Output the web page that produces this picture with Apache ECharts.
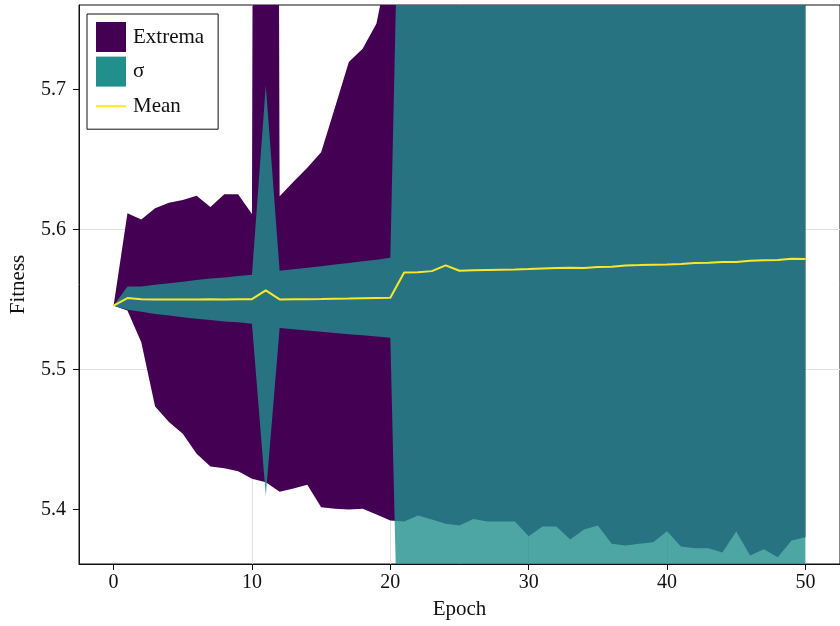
<!DOCTYPE html>
<html><head><meta charset="utf-8">
<script src="https://cdn.jsdelivr.net/npm/echarts@6/dist/echarts.min.js"></script>
<style>html,body{margin:0;padding:0;background:#fff}#c{width:840px;height:626px}</style>
</head><body><div id="c"></div>
<script>
const epochs = [0,1,2,3,4,5,6,7,8,9,10,11,12,13,14,15,16,17,18,19,20,21,22,23,24,25,26,27,28,29,30,31,32,33,34,35,36,37,38,39,40,41,42,43,44,45,46,47,48,49,50];
const meanVals = [5.5455,5.5510,5.5502,5.5500,5.5500,5.5500,5.5500,5.5501,5.5500,5.5502,5.5502,5.5564,5.5500,5.5501,5.5502,5.5503,5.5505,5.5506,5.5508,5.5510,5.5512,
  5.5692,5.5694,5.5702,5.5743,5.5705,5.5708,5.5710,5.5712,5.5714,5.5717,5.5721,5.5724,5.5726,5.5725,5.5731,5.5733,5.5743,5.5745,5.5748,5.5750,
  5.5753,5.5760,5.5762,5.5767,5.5767,5.5776,5.5779,5.5781,5.5790,5.5788];
const stdVals = [0,0.0083,0.0090,0.0105,0.0115,0.0127,0.0138,0.0148,0.0157,0.0165,0.0175,0.1465,0.0204,0.0214,0.0224,0.0234,0.0244,0.0254,0.0264,0.0274,0.0285,
  0.462,0.461,0.463,0.470,0.462,0.461,0.460,0.460,0.459,0.459,0.458,0.458,0.457,0.457,0.456,0.456,0.457,0.456,0.455,0.455,
  0.455,0.456,0.455,0.455,0.454,0.455,0.454,0.454,0.455,0.454];
const minVals = [5.5455,5.5421,5.5195,5.4736,5.4624,5.4541,5.4398,5.4307,5.4295,5.4274,5.4219,5.4195,5.4127,5.4150,5.4176,5.4017,5.4005,5.4000,5.4005,5.3964,5.3921,
  5.3914,5.3957,5.3929,5.3898,5.3886,5.3933,5.3914,5.3914,5.3914,5.3810,5.3879,5.3879,5.3786,5.3857,5.3886,5.3755,5.3743,5.3755,5.3767,5.3845,
  5.3736,5.3724,5.3724,5.3693,5.3843,5.3671,5.3717,5.3660,5.3779,5.3802];
const maxVals = [5.5455,5.6116,5.6070,5.6150,5.6190,5.6210,5.6240,5.6160,5.6250,5.6250,5.6110,8.90,5.6236,5.6340,5.6440,5.6550,5.6870,5.7195,5.7290,5.7470,5.7960,
  16.8,16.8,16.9,17.1,16.9,16.9,16.9,16.9,16.9,16.9,16.9,16.9,16.9,16.9,16.9,16.9,17.0,16.9,16.9,16.9,
  16.9,17.0,16.9,16.9,16.9,16.9,16.9,16.9,17.0,16.9];
const xTicks = [0,10,20,30,40,50];
const yTicks = [5.4,5.5,5.6,5.7];

const FONT = 'Liberation Serif';
// value first, epoch second, so that stacking happens on the y (value) dimension
const pairs = arr => epochs.map((e,i)=>[arr[i], e]);
const extSpan = maxVals.map((v,i)=>v - minVals[i]);
const sigLow = meanVals.map((m,i)=>m - stdVals[i]);
const sigSpan = stdVals.map(s=>2*s);

const enc = {x:1, y:0};
const hidden = {symbol:'none', showSymbol:false, silent:true, encode:enc, lineStyle:{width:0,opacity:0}, emphasis:{disabled:true}};
const chart = echarts.init(document.getElementById('c'));
chart.setOption({
  animation:false,
  grid:{left:78, top:5, width:768, height:559, show:true, borderColor:'#111', borderWidth:1},
  legend:{
    orient:'vertical', left:87, top:14, padding:[8,14,8,9], itemGap:4.6, itemWidth:30, itemHeight:30,
    backgroundColor:'#fff', borderColor:'#111', borderWidth:1, borderRadius:0,
    textStyle:{fontFamily:FONT, fontSize:21, color:'#111', padding:[0,0,0,2]},
    data:[{name:'Extrema', icon:'rect'},{name:'σ', icon:'rect'},
          {name:'Mean', icon:'path://M0,14 L30,14 L30,16 L0,16 Z M0,0 L0.01,0 L0.01,30 L0,30 Z'}],
    selectedMode:false
  },
  xAxis:{
    type:'value', min:-2.5, max:52.5,
    name:'Epoch', nameLocation:'middle', nameGap:35,
    nameTextStyle:{fontFamily:FONT, fontSize:21, color:'#111'},
    axisLine:{show:true, onZero:false, lineStyle:{color:'#111', width:1}},
    axisTick:{show:true, customValues:xTicks, length:6, lineStyle:{color:'#111'}},
    axisLabel:{customValues:xTicks, margin:9, fontFamily:FONT, fontSize:20, color:'#111'},
    splitLine:{show:true, showMinLine:false, showMaxLine:false, lineStyle:{color:'#e2e2e2', width:1}}
  },
  yAxis:{
    type:'value', min:5.3611, max:5.7602,
    name:'Fitness', nameLocation:'middle', nameGap:50,
    nameTextStyle:{fontFamily:FONT, fontSize:21, color:'#111'},
    axisLine:{show:true, onZero:false, lineStyle:{color:'#111', width:1}},
    axisTick:{show:true, customValues:yTicks, length:6, lineStyle:{color:'#111'}},
    axisLabel:{customValues:yTicks, margin:13, fontFamily:FONT, fontSize:20, color:'#111', formatter:v=>v.toFixed(1)},
    splitLine:{show:true, showMinLine:false, showMaxLine:false, lineStyle:{color:'#e2e2e2', width:1}}
  },
  series:[
    Object.assign({type:'line', name:'extBase', stack:'ext', data:pairs(minVals)}, hidden),
    Object.assign({type:'line', name:'Extrema', stack:'ext', data:pairs(extSpan), color:'#440154',
      areaStyle:{color:'#440154', opacity:1}}, hidden),
    Object.assign({type:'line', name:'sigBase', stack:'sig', data:pairs(sigLow)}, hidden),
    Object.assign({type:'line', name:'σ', stack:'sig', data:pairs(sigSpan), color:'#21908d',
      areaStyle:{color:'#21908d', opacity:0.8}}, hidden),
    {type:'line', name:'Mean', data:pairs(meanVals), encode:enc, color:'#fde725', symbol:'none', showSymbol:false,
      lineStyle:{color:'#fde725', width:2}, emphasis:{disabled:true}, silent:true}
  ]
});
</script></body></html>
